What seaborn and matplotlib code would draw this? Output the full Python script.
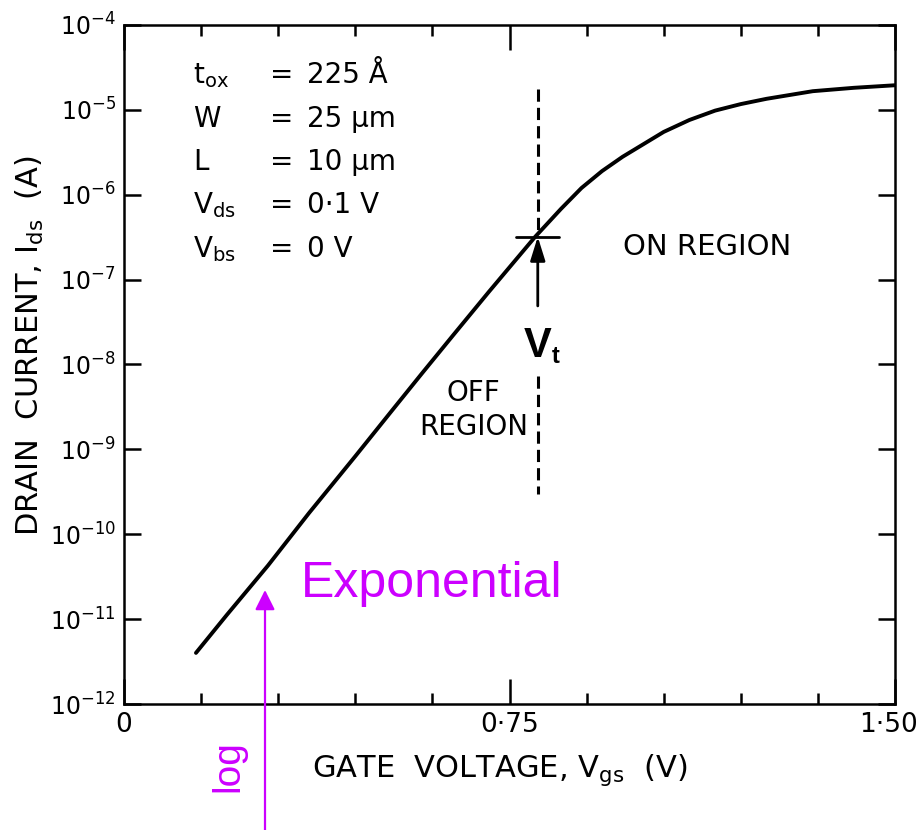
import matplotlib
matplotlib.use("Agg")
import matplotlib.pyplot as plt
import matplotlib.transforms as mtransforms
import numpy as np
import pandas as pd
import seaborn as sns
from matplotlib.ticker import FixedLocator, FixedFormatter, NullFormatter

# ---------------- data ----------------
gate_voltage = [0.14, 0.20, 0.28, 0.36, 0.45, 0.52, 0.58, 0.64, 0.71, 0.76,
                0.80, 0.85, 0.89, 0.93, 0.97, 1.05, 1.10, 1.15, 1.20, 1.25,
                1.34, 1.42, 1.50]
drain_current = [4.0e-12, 1.12e-11, 4.27e-11, 1.78e-10, 8.3e-10, 2.8e-9, 7.9e-9,
                 2.2e-8, 7.2e-8, 1.65e-7, 3.2e-7, 6.8e-7, 1.2e-6, 1.9e-6, 2.8e-6,
                 5.5e-6, 7.6e-6, 9.8e-6, 1.17e-5, 1.35e-5, 1.66e-5, 1.82e-5, 1.95e-5]

x_major_ticks = [0.0, 0.75, 1.5]
x_tick_labels = ["0", "0·75", "1·50"]
x_minor_ticks = [0.15, 0.30, 0.45, 0.60, 0.90, 1.05, 1.20, 1.35]
y_decades = [-12, -11, -10, -9, -8, -7, -6, -5, -4]
y_tick_labels = [r"$10^{%d}$" % d for d in y_decades]

threshold_voltage = 0.805
threshold_current = 3.2e-7
dash_upper_top = 1.78e-5
dash_lower = [7.4e-9, 3.0e-10]
arrow_tail_current = 4.9e-8
cross_half_width = 0.042

param_names = [r"$t_{ox}$", "W", "L", r"$V_{ds}$", r"$V_{bs}$"]
param_values = ["225 Å", "25 µm", "10 µm", "0·1 V", "0 V"]

# ---------------- style ----------------
sns.set_style("ticks")
plt.rcParams["font.family"] = ["DejaVu Sans"]
plt.rcParams["mathtext.default"] = "regular"
plt.rcParams["axes.linewidth"] = 1.8
plt.rcParams["text.color"] = "black"
plt.rcParams["xtick.color"] = "black"
plt.rcParams["ytick.color"] = "black"
plt.rcParams["xtick.labelcolor"] = "black"
plt.rcParams["ytick.labelcolor"] = "black"
plt.rcParams["axes.edgecolor"] = "black"

MAGENTA = "#CC00FF"
W, H = 923, 830


def fx(px):
    return px / W


def fy(py):
    return 1 - py / H


fig = plt.figure(figsize=(W / 100, H / 100), dpi=100)
ax = fig.add_axes([fx(124), fy(704), (895 - 124) / W, (704 - 25) / H])

df = pd.DataFrame({"Vgs": gate_voltage, "Ids": drain_current})
sns.lineplot(data=df, x="Vgs", y="Ids", ax=ax, color="black", lw=2.8,
             solid_capstyle="round")

ax.set_yscale("log")
ax.set_xlim(0, 1.5)
ax.set_ylim(1e-12, 1e-4)
ax.set_xlabel("")
ax.set_ylabel("")

ax.xaxis.set_major_locator(FixedLocator(x_major_ticks))
ax.xaxis.set_major_formatter(FixedFormatter(x_tick_labels))
ax.xaxis.set_minor_locator(FixedLocator(x_minor_ticks))
ax.xaxis.set_minor_formatter(NullFormatter())
ax.yaxis.set_major_locator(FixedLocator([10.0 ** d for d in y_decades]))
ax.yaxis.set_major_formatter(FixedFormatter(y_tick_labels))
ax.yaxis.set_minor_locator(FixedLocator([]))

ax.tick_params(which="both", direction="in", top=True, right=True,
               width=1.8, color="black", labelcolor="black")
ax.tick_params(axis="x", which="major", length=18, labelsize=19, pad=6)
ax.tick_params(axis="x", which="minor", length=8)
ax.tick_params(axis="y", which="major", length=12, labelsize=17, pad=6)
for s in ax.spines.values():
    s.set_visible(True)
    s.set_color("black")

# nudge the last x tick label so it stays inside the figure
fig.canvas.draw()
last = ax.get_xticklabels()[-1]
last.set_transform(last.get_transform() +
                   mtransforms.ScaledTranslation(-7 / 100, 0, fig.dpi_scale_trans))

# threshold markers
ax.plot([threshold_voltage, threshold_voltage], [dash_upper_top, threshold_current],
        color="black", lw=2.2, linestyle=(0, (4, 2)))
ax.plot([threshold_voltage, threshold_voltage], dash_lower,
        color="black", lw=2.2, linestyle=(0, (4, 2)))
ax.plot([threshold_voltage - cross_half_width, threshold_voltage + cross_half_width],
        [threshold_current, threshold_current], color="black", lw=2.0)
ax.annotate("", xy=(threshold_voltage, threshold_current),
            xytext=(threshold_voltage, arrow_tail_current),
            arrowprops=dict(arrowstyle="-|>,head_length=0.8,head_width=0.25",
                            mutation_scale=18, color="black", lw=2.0,
                            shrinkA=0, shrinkB=0))

# texts inside plot
fig.text(fx(707), fy(247), "ON REGION", fontsize=21, ha="center", va="center")
fig.text(fx(528), fy(410), "OFF\nREGION", fontsize=20, ha="right", va="center",
         multialignment="center", linespacing=1.25)
fig.text(fx(538), fy(357), "V", fontsize=30, fontweight="bold",
         family="Liberation Sans", ha="center", va="baseline")
fig.text(fx(552), fy(363), "t", fontsize=17, fontweight="bold",
         family="Liberation Sans", ha="left", va="baseline")

baselines = [83, 127, 170, 213, 257]
for name, val, b in zip(param_names, param_values, baselines):
    fig.text(fx(193), fy(b), name, fontsize=20, ha="left", va="baseline")
    fig.text(fx(270), fy(b), "=", fontsize=20, ha="left", va="baseline")
    fig.text(fx(307), fy(b), val, fontsize=20, ha="left", va="baseline")

# axis labels
fig.text(fx(500), fy(770), r"GATE  VOLTAGE, $V_{gs}$  (V)", fontsize=22,
         ha="center", va="center")
fig.text(fx(30), fy(346), r"DRAIN  CURRENT, $I_{ds}$  (A)", fontsize=22,
         ha="center", va="center", rotation=90)

# magenta annotations
fig.text(fx(301), fy(597), "Exponential", fontsize=36, color=MAGENTA,
         family="Liberation Sans", ha="left", va="baseline")
fig.text(fx(228), fy(766), "log", fontsize=28, color=MAGENTA,
         family="Liberation Sans", ha="center", va="center", rotation=90)
fig.patches.append(matplotlib.patches.FancyArrowPatch(
    (fx(265), 0.0), (fx(265), fy(590)), transform=fig.transFigure,
    arrowstyle="-|>,head_length=0.4,head_width=0.2", mutation_scale=30,
    color=MAGENTA, lw=1.6, shrinkA=0, shrinkB=0))

fig.savefig("out.png", dpi=100, facecolor="white")
